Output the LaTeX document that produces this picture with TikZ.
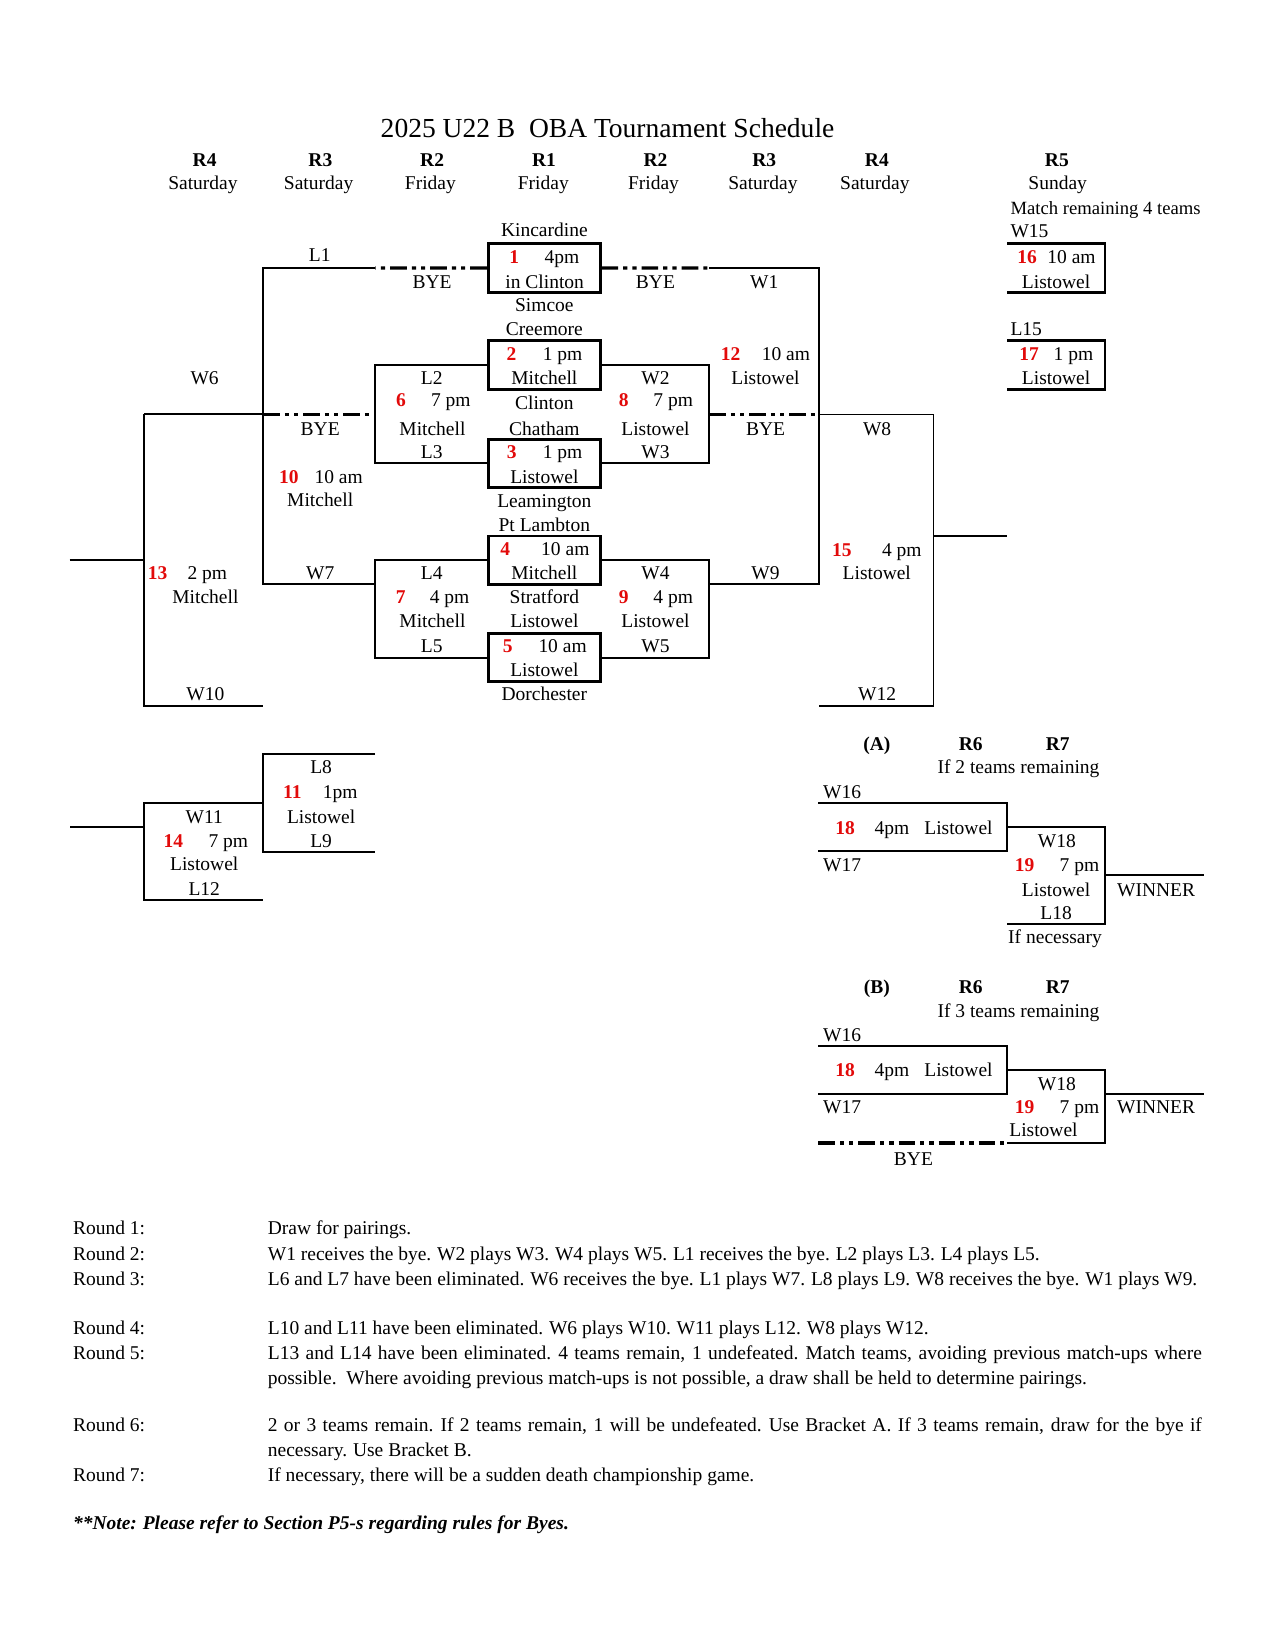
\documentclass[tikz,border=0pt]{standalone}
\usepackage{fontspec}
\setmainfont{Liberation Serif}
\usetikzlibrary{fit}
\definecolor{rd}{RGB}{226,10,10}
\newcommand\fs{\fontsize{9.35}{11}\selectfont\xspaceskip=0.3em plus 0.1em minus 0.05em\relax}
\newcommand\mytxt[3]{\node[tx] (#1) at (#2) {#3};}
\newcommand\myred[3]{\node[nm] (#1) at (#2) {#3};}
\newcommand\myhd[3]{\node[hd] (#1) at (#2) {#3};}
\newcommand\mylft[3]{\node[tx,anchor=west] (#1) at (#2) {#3};}
\begin{document}
\begin{tikzpicture}[x=0.50505pt,y=-0.50505pt,
  tx/.style={inner sep=0pt,text height=0.68em,text depth=0pt,font=\fs},
  nm/.style={tx,text=rd,font=\fs\bfseries},
  hd/.style={tx,font=\fs\bfseries},
  ln/.style={line width=0.9pt},
  bx/.style={line width=1.3pt},
  gbox/.style={draw,line width=1.3pt,inner sep=0pt},
  bye/.style={line width=1.6pt,dash pattern=on 8pt off 2.4pt on 2pt off 2.4pt on 2pt off 2.4pt}]
\useasboundingbox (0,0) rectangle (1212,1568);

% ---------- title and headers ----------
\node[inner sep=0pt,text height=0.68em,text depth=0pt,font=\fontsize{13.2}{15}\selectfont] (title) at (577,124) {2025 U22 B~ OBA Tournament Schedule};
\myhd{h1}{194.3,151}{R4}
\myhd{h2}{304.3,151}{R3}
\myhd{h3}{410.4,151}{R2}
\myhd{h4}{516.6,151}{R1}
\myhd{h5}{622.5,151}{R2}
\myhd{h6}{725.8,151}{R3}
\myhd{h7}{832.8,151}{R4}
\myhd{h8}{1003.7,151}{R5}
\mytxt{d1}{192.7,173}{Saturday}
\mytxt{d2}{302.6,173}{Saturday}
\mytxt{d3}{408.8,173}{Friday}
\mytxt{d4}{516,173}{Friday}
\mytxt{d5}{620.6,173}{Friday}
\mytxt{d6}{724.6,173}{Saturday}
\mytxt{d7}{830.9,173}{Saturday}
\mytxt{d8}{1004.5,173}{Sunday}

% ---------- main bracket boxes ----------
\coordinate (b1tl) at (463.7,231.1); \coordinate (b1br) at (570,278);
\coordinate (b2tl) at (463.7,323.6); \coordinate (b2br) at (570,369.8);
\coordinate (b3tl) at (463.7,417.3); \coordinate (b3br) at (570,462.9);
\coordinate (b4tl) at (463.7,509.1); \coordinate (b4br) at (570,555);
\coordinate (b5tl) at (463.7,601.6); \coordinate (b5br) at (570,647.5);
\node[gbox,fit=(b1tl)(b1br)] (box1) {};
\node[gbox,fit=(b2tl)(b2br)] (box2) {};
\node[gbox,fit=(b3tl)(b3br)] (box3) {};
\node[gbox,fit=(b4tl)(b4br)] (box4) {};
\node[gbox,fit=(b5tl)(b5br)] (box5) {};

% ---------- left connectors ----------
\coordinate (c1) at (356.5,254.5); \coordinate (c2) at (250,254.5);
\coordinate (c3) at (250,555); \coordinate (c4) at (356.5,555);
\draw[bye] (box1.west) -- (c1);
\draw[ln] (c1) -- (c2) -- (c3) -- (c4);
\draw[ln] (box2.west) -- (box2.west -| c1) -- (box3.west -| c1) -- (box3.west);
\draw[ln] (box4.west) -- (box4.west -| c1) -- (box5.west -| c1) -- (box5.west);
\coordinate (c5) at (137,393.5); \coordinate (c6) at (250,393.5); \coordinate (c7) at (356.5,393.5);
\draw[ln] (c5) -- (c6);
\draw[bye] (c6) -- (c7);
\coordinate (c8) at (137,670.3); \coordinate (c9) at (250,670.3);
\draw[ln] (c5) -- (c8) -- (c9);
\coordinate (c10) at (66.1,532.2); \coordinate (c11) at (137,532.2);
\draw[ln] (c10) -- (c11);

% ---------- right connectors ----------
\coordinate (r1) at (673.5,254.5); \coordinate (r2) at (777.5,254.5);
\coordinate (r3) at (777.5,555); \coordinate (r4) at (673.5,555);
\draw[bye] (box1.east) -- (r1);
\draw[ln] (r1) -- (r2) -- (r3) -- (r4);
\draw[ln] (box2.east) -- (box2.east -| r1) -- (box3.east -| r1) -- (box3.east);
\draw[ln] (box4.east) -- (box4.east -| r1) -- (box5.east -| r1) -- (box5.east);
\coordinate (r5) at (673.5,393.7); \coordinate (r6) at (777.5,393.7);
\coordinate (r7) at (886.5,393.7); \coordinate (r8) at (886.5,670.3); \coordinate (r9) at (777.5,670.3);
\draw[bye] (r5) -- (r6);
\draw[ln] (r6) -- (r7) -- (r8) -- (r9);
\coordinate (r10) at (886.5,509.1); \coordinate (r11) at (956.2,509.1);
\draw[ln] (r10) -- (r11);

% ---------- R5 boxes ----------
\coordinate (e1) at (956.8,231.1); \coordinate (e2) at (1049.5,231.1);
\coordinate (e3) at (1049.5,278); \coordinate (e4) at (956.8,278);
\draw[bx] (e1) -- (e2) -- (e3) -- (e4);
\coordinate (e5) at (956.8,323.6); \coordinate (e6) at (1049.5,323.6);
\coordinate (e7) at (1049.5,369.8); \coordinate (e8) at (956.8,369.8);
\draw[bx] (e5) -- (e6) -- (e7) -- (e8);

% ---------- lower-left bracket ----------
\coordinate (f1) at (356.2,716.5); \coordinate (f2) at (250,716.5);
\coordinate (f3) at (250,809); \coordinate (f4) at (356.2,809);
\draw[ln] (f1) -- (f2) -- (f3) -- (f4);
\coordinate (g1) at (250,762.4); \coordinate (g2) at (137,762.4);
\coordinate (g3) at (137,854.9); \coordinate (g4) at (250,854.9);
\draw[ln] (g1) -- (g2) -- (g3) -- (g4);
\coordinate (g5) at (66.5,785.8); \coordinate (g6) at (137,785.8);
\draw[ln] (g5) -- (g6);

% ---------- bracket A ----------
\coordinate (a1) at (777.3,763); \coordinate (a2) at (956.2,763);
\coordinate (a3) at (956.2,808.6); \coordinate (a4) at (777.3,808.6);
\draw[ln] (a1) -- (a2) -- (a3) -- (a4);
\coordinate (a5) at (956.2,785.8); \coordinate (a6) at (1049.6,785.8);
\coordinate (a7) at (1049.6,877.7); \coordinate (a8) at (956.2,877.7);
\draw[ln] (a5) -- (a6) -- (a7) -- (a8);
\coordinate (a9) at (1049.6,831.4); \coordinate (a10) at (1143.6,831.4);
\draw[ln] (a9) -- (a10);

% ---------- bracket B ----------
\coordinate (p1) at (777.3,993.5); \coordinate (p2) at (956.2,993.5);
\coordinate (p3) at (956.2,1039.4); \coordinate (p4) at (777.3,1039.4);
\draw[ln] (p1) -- (p2) -- (p3) -- (p4);
\coordinate (p5) at (956.2,1016.3); \coordinate (p6) at (1049.6,1016.3);
\coordinate (p7) at (1049.6,1085.4); \coordinate (p8) at (956.2,1085.4);
\draw[ln] (p5) -- (p6) -- (p7) -- (p8);
\coordinate (p11) at (777.3,1085.4);
\draw[bye] (p11) -- (p8);
\coordinate (p9) at (1049.6,1039.4); \coordinate (p10) at (1143.6,1039.4);
\draw[ln] (p9) -- (p10);

% ---------- R1 column ----------
\mytxt{t1}{517,218}{Kincardine}
\myred{n1}{488.5,243.2}{1}
\mytxt{t2}{533.6,243.2}{4pm}
\mytxt{t3}{517.3,266.9}{in Clinton}
\mytxt{t4}{517,289}{Simcoe}
\mytxt{t5}{517,312.2}{Creemore}
\myred{n2}{485.8,335.3}{2}
\mytxt{t6}{534.3,335.3}{1 pm}
\mytxt{t7}{517,358.4}{Mitchell}
\mytxt{t8}{517,382.5}{Clinton}
\mytxt{t9}{517,406.5}{Chatham}
\myred{n3}{486,428.4}{3}
\mytxt{t10}{534.3,428.4}{1 pm}
\mytxt{t11}{517,452.1}{Listowel}
\mytxt{t12}{517,475.6}{Leamington}
\mytxt{t13}{517,498.4}{Pt Lambton}
\myred{n4}{479.8,520.5}{4}
\mytxt{t14}{536.9,520.5}{10 am}
\mytxt{t15}{517,544}{Mitchell}
\mytxt{t16}{517,566.8}{Stratford}
\mytxt{t17}{517,589.5}{Listowel}
\myred{n5}{482.3,612.7}{5}
\mytxt{t18}{534.3,612.7}{10 am}
\mytxt{t19}{517,635.8}{Listowel}
\mytxt{t20}{517,658.6}{Dorchester}

% ---------- left R2 ----------
\mytxt{u1}{410.4,267.5}{BYE}
\mytxt{u2}{410,358.4}{L2}
\myred{n6}{380.9,379}{6}
\mytxt{u3}{428.1,379}{7 pm}
\mytxt{u4}{410.7,406.5}{Mitchell}
\mytxt{u5}{410,429}{L3}
\mytxt{u6}{410,544}{L4}
\myred{n7}{380.5,566.8}{7}
\mytxt{u7}{427,566.8}{4 pm}
\mytxt{u8}{410.7,589.5}{Mitchell}
\mytxt{u9}{410,613.3}{L5}

% ---------- left R3 ----------
\mytxt{v1}{303.6,241.3}{L1}
\mytxt{v2}{304.1,406.5}{BYE}
\myred{n10}{274.4,452.1}{10}
\mytxt{v3}{321.6,452.1}{10 am}
\mytxt{v4}{304.1,474.3}{Mitchell}
\mytxt{v5}{304.1,544}{W7}

% ---------- left R4 ----------
\mytxt{w1}{194.3,358.4}{W6}
\myred{n13}{149.7,544}{13}
\mytxt{w2}{196.9,544}{2 pm}
\mytxt{w3}{195.1,566.8}{Mitchell}
\mytxt{w4}{195.1,658.6}{W10}

% ---------- right R2 ----------
\mytxt{x1}{622.5,267.5}{BYE}
\mytxt{x2}{622.5,358.4}{W2}
\myred{n8}{592.4,379}{8}
\mytxt{x3}{639.4,379}{7 pm}
\mytxt{x4}{622.5,406.5}{Listowel}
\mytxt{x5}{622.5,429}{W3}
\mytxt{x6}{622.5,544}{W4}
\myred{n9}{592.4,566.8}{9}
\mytxt{x7}{639.4,566.8}{4 pm}
\mytxt{x8}{622.5,589.5}{Listowel}
\mytxt{x9}{622.5,613.3}{W5}

% ---------- right R3 ----------
\mytxt{y1}{725.8,267.5}{W1}
\myred{n12}{693.9,335.6}{12}
\mytxt{y2}{746.4,335.6}{10 am}
\mytxt{y3}{727,358.4}{Listowel}
\mytxt{y4}{727,406.5}{BYE}
\mytxt{y5}{727,544}{W9}

% ---------- right R4 ----------
\mytxt{z1}{833,406.5}{W8}
\myred{n15}{799.5,521.5}{15}
\mytxt{z2}{856.5,521.5}{4 pm}
\mytxt{z3}{832.7,544}{Listowel}
\mytxt{z4}{833,658.6}{W12}

% ---------- R5 ----------
\node[tx,anchor=west,font=\fontsize{8.95}{11}\selectfont] (q1) at (959.3,196.9) {Match remaining 4 teams};
\mylft{q2}{959.3,218.5}{W15}
\myred{n16}{975.5,243.2}{16}
\mytxt{q3}{1017.6,243.2}{10 am}
\mytxt{q4}{1003,266.9}{Listowel}
\mylft{q5}{959.3,312.2}{L15}
\myred{n17}{977.4,335.6}{17}
\mytxt{q6}{1019.5,335.6}{1 pm}
\mytxt{q7}{1003,358.4}{Listowel}

% ---------- lower-left texts ----------
\mytxt{k1}{305,728.2}{L8}
\myred{n11}{277.7,752}{11}
\mytxt{k2}{323,752}{1pm}
\mytxt{k3}{305,775.1}{Listowel}
\mytxt{k4}{305,797.9}{L9}
\mytxt{k5}{194,775.1}{W11}
\myred{n14}{164.6,797.9}{14}
\mytxt{k6}{216.9,797.9}{7 pm}
\mytxt{k7}{194,820}{Listowel}
\mytxt{k8}{194,843.8}{L12}

% ---------- bracket A texts ----------
\myhd{ma1}{832.7,706.5}{(A)}
\myhd{ma2}{922,706.5}{R6}
\myhd{ma3}{1004.6,706.5}{R7}
\mytxt{ma4}{967.3,728.2}{If 2 teams remaining}
\mylft{ma5}{781.4,751.3}{W16}
\myred{n18a}{802.6,785.8}{18}
\mytxt{ma6}{847,785.8}{4pm}
\mytxt{ma7}{910.3,785.8}{Listowel}
\mylft{ma8}{781.4,820.7}{W17}
\mytxt{ma9}{1003.7,797.9}{W18}
\myred{n19a}{973,820.7}{19}
\mytxt{ma10}{1025.2,820.7}{7 pm}
\mytxt{ma11}{1003,844.7}{Listowel}
\mytxt{ma12}{1003,866.9}{L18}
\mytxt{ma13}{1002,889}{If necessary}
\mytxt{ma14}{1098,844.7}{WINNER}

% ---------- bracket B texts ----------
\myhd{mb1}{832.7,936.5}{(B)}
\myhd{mb2}{922,936.5}{R6}
\myhd{mb3}{1004.6,936.5}{R7}
\mytxt{mb4}{967.3,959.3}{If 3 teams remaining}
\mylft{mb5}{781.4,982.1}{W16}
\myred{n18b}{802.6,1015.7}{18}
\mytxt{mb6}{847,1015.7}{4pm}
\mytxt{mb7}{910.3,1015.7}{Listowel}
\mylft{mb8}{781.4,1051.2}{W17}
\mytxt{mb9}{1003.7,1029}{W18}
\myred{n19b}{973,1051.2}{19}
\mytxt{mb10}{1025.2,1051.2}{7 pm}
\mytxt{mb11}{991,1072.7}{Listowel}
\mytxt{mb12}{1098,1051.2}{WINNER}
\mytxt{mb13}{867.5,1100.2}{BYE}

% ---------- footer ----------
\mylft{o1}{69,1166}{Round 1:}
\mylft{o2}{69,1190}{Round 2:}
\mylft{o3}{69,1214}{Round 3:}
\mylft{o4}{69,1261}{Round 4:}
\mylft{o5}{69,1284}{Round 5:}
\mylft{o6}{69,1353}{Round 6:}
\mylft{o7}{69,1400}{Round 7:}
\mylft{s1}{254,1166}{Draw for pairings.}
\mylft{s2}{254,1190}{W1 receives the bye. W2 plays W3. W4 plays W5. L1 receives the bye. L2 plays L3. L4 plays L5.}
\mylft{s3}{254,1214}{L6 and L7 have been eliminated. W6 receives the bye. L1 plays W7. L8 plays L9. W8 receives the bye. W1 plays W9.}
\mylft{s4}{254,1261}{L10 and L11 have been eliminated. W6 plays W10. W11 plays L12. W8 plays W12.}
\mylft{s5}{254,1284}{\makebox[448pt][s]{L13 and L14 have been eliminated. 4 teams remain, 1 undefeated. Match teams, avoiding previous match-ups where}}
\mylft{s6}{254,1308}{possible.\ \ Where avoiding previous match-ups is not possible, a draw shall be held to determine pairings.}
\mylft{s7}{254,1353}{\makebox[448pt][s]{2 or 3 teams remain. If 2 teams remain, 1 will be undefeated. Use Bracket A. If 3 teams remain, draw for the bye if}}
\mylft{s8}{254,1377}{necessary. Use Bracket B.}
\mylft{s9}{254,1400}{If necessary, there will be a sudden death championship game.}
\node[tx,anchor=west,font=\fs\bfseries\itshape] (note) at (69,1446) {**Note: Please refer to Section P5-s regarding rules for Byes.};
\end{tikzpicture}
\end{document}
